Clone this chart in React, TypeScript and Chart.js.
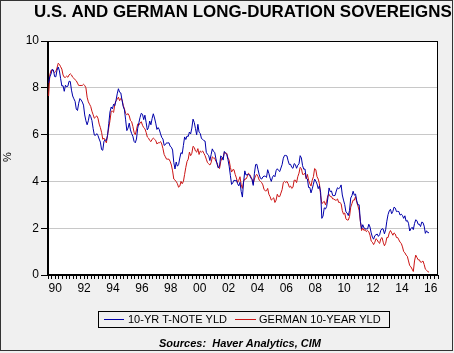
import React, { useEffect, useRef } from "react";
import { Chart, registerables } from "chart.js";

Chart.register(...registerables);

const TITLE = "U.S. AND GERMAN LONG-DURATION SOVEREIGNS";
const SERIES_LABELS = ["10-YR T-NOTE YLD", "GERMAN 10-YEAR YLD"];
const SOURCE = "Sources:  Haver Analytics, CIM";
const Y_AXIS_TITLE = "%";
const START_YEAR = 1990;
const X_MIN = 1990;
const X_MAX = 2017;
const Y_TICKS = [0, 2, 4, 6, 8, 10];
const X_LABEL_YEARS = [1990, 1992, 1994, 1996, 1998, 2000, 2002, 2004, 2006, 2008, 2010, 2012, 2014, 2016];

// Monthly averages, Jan 1990 - May 2016
const US_10Y = [
  8.21, 8.47, 8.59, 8.79, 8.76, 8.48, 8.47, 8.75, 8.89, 8.72, 8.39, 8.08,
  8.09, 7.85, 8.11, 8.04, 8.07, 8.28, 8.27, 7.9, 7.65, 7.53, 7.42, 7.09,
  7.03, 7.34, 7.54, 7.48, 7.39, 7.26, 6.84, 6.59, 6.42, 6.59, 6.87, 6.77,
  6.6, 6.26, 5.98, 5.97, 6.04, 5.96, 5.81, 5.68, 5.36, 5.33, 5.72, 5.77,
  5.75, 5.97, 6.48, 6.97, 7.18, 7.1, 7.3, 7.24, 7.46, 7.74, 7.96, 7.81,
  7.78, 7.47, 7.2, 7.06, 6.63, 6.17, 6.28, 6.49, 6.2, 6.04, 5.93, 5.71,
  5.65, 5.81, 6.27, 6.51, 6.74, 6.91, 6.87, 6.64, 6.83, 6.53, 6.2, 6.3,
  6.58, 6.42, 6.69, 6.89, 6.71, 6.49, 6.22, 6.3, 6.21, 6.03, 5.88, 5.81,
  5.54, 5.57, 5.65, 5.64, 5.65, 5.5, 5.46, 5.34, 4.81, 4.53, 4.83, 4.65,
  4.72, 5.0, 5.23, 5.18, 5.54, 5.9, 5.79, 5.94, 5.92, 6.11, 6.03, 6.28,
  6.66, 6.52, 6.26, 5.99, 6.44, 6.1, 6.05, 5.83, 5.8, 5.74, 5.72, 5.24,
  5.16, 5.1, 4.89, 5.14, 5.39, 5.28, 5.24, 4.97, 4.73, 4.57, 4.65, 5.09,
  5.04, 4.91, 5.28, 5.21, 5.16, 4.93, 4.65, 4.26, 3.87, 3.94, 4.05, 4.03,
  4.05, 3.9, 3.81, 3.96, 3.57, 3.33, 3.98, 4.45, 4.27, 4.29, 4.3, 4.27,
  4.15, 4.08, 3.83, 4.35, 4.72, 4.73, 4.5, 4.28, 4.13, 4.1, 4.19, 4.23,
  4.22, 4.17, 4.5, 4.34, 4.14, 4.0, 4.18, 4.26, 4.2, 4.46, 4.54, 4.47,
  4.42, 4.57, 4.72, 4.99, 5.11, 5.11, 5.09, 4.88, 4.72, 4.73, 4.6, 4.56,
  4.76, 4.72, 4.56, 4.69, 4.75, 5.1, 5.0, 4.67, 4.52, 4.53, 4.15, 4.1,
  3.74, 3.74, 3.51, 3.68, 3.88, 4.1, 4.01, 3.89, 3.69, 3.81, 3.53, 2.42,
  2.52, 2.87, 2.82, 2.93, 3.29, 3.72, 3.56, 3.59, 3.4, 3.39, 3.4, 3.59,
  3.73, 3.69, 3.73, 3.85, 3.42, 3.2, 3.01, 2.7, 2.65, 2.54, 2.76, 3.29,
  3.39, 3.58, 3.41, 3.46, 3.17, 3.0, 3.0, 2.3, 1.98, 2.15, 2.01, 1.98,
  1.97, 1.97, 2.17, 2.05, 1.8, 1.62, 1.53, 1.68, 1.72, 1.75, 1.65, 1.72,
  1.91, 1.98, 1.96, 1.76, 1.93, 2.3, 2.58, 2.74, 2.81, 2.62, 2.72, 2.9,
  2.86, 2.71, 2.72, 2.71, 2.56, 2.6, 2.54, 2.42, 2.53, 2.3, 2.33, 2.21,
  1.88, 1.98, 2.04, 1.94, 2.2, 2.36, 2.32, 2.17, 2.17, 2.07, 2.26, 2.24,
  2.09, 1.78, 1.89, 1.81, 1.81,
];

const DE_10Y = [
  7.65, 8.55, 8.75, 8.75, 8.7, 8.65, 8.7, 8.85, 9.05, 9.0, 8.9, 8.8,
  8.55, 8.45, 8.45, 8.5, 8.45, 8.55, 8.6, 8.55, 8.45, 8.4, 8.35, 8.3,
  8.2, 8.1, 8.1, 8.1, 8.1, 8.15, 8.1, 8.0, 7.6, 7.4, 7.3, 7.2,
  7.0, 6.85, 6.7, 6.75, 6.8, 6.7, 6.45, 6.3, 6.1, 5.8, 5.85, 5.75,
  5.65, 6.0, 6.3, 6.6, 7.0, 7.0, 6.95, 7.3, 7.45, 7.5, 7.6, 7.45,
  7.55, 7.5, 7.25, 7.1, 6.9, 6.85, 6.9, 6.8, 6.6, 6.55, 6.35, 6.1,
  6.0, 6.2, 6.45, 6.4, 6.5, 6.55, 6.4, 6.3, 6.25, 6.1, 5.9, 5.85,
  5.75, 5.7, 5.8, 5.85, 5.8, 5.75, 5.6, 5.65, 5.65, 5.7, 5.6, 5.4,
  5.15, 5.05, 4.95, 4.95, 4.95, 4.85, 4.7, 4.45, 4.1, 4.05, 4.0, 3.9,
  3.75, 3.8, 4.0, 3.9, 4.0, 4.3, 4.6, 4.85, 4.95, 5.25, 5.1, 5.2,
  5.5, 5.45, 5.3, 5.25, 5.4, 5.15, 5.3, 5.25, 5.3, 5.2, 5.1, 4.95,
  4.8, 4.75, 4.7, 4.8, 5.05, 5.0, 5.0, 4.85, 4.8, 4.6, 4.55, 4.85,
  5.0, 5.0, 5.25, 5.2, 5.2, 5.0, 4.9, 4.6, 4.4, 4.5, 4.5, 4.3,
  4.15, 3.95, 4.05, 4.2, 3.85, 3.7, 4.0, 4.1, 4.1, 4.2, 4.35, 4.3,
  4.2, 4.1, 3.9, 4.1, 4.25, 4.3, 4.2, 4.05, 4.0, 3.95, 3.85, 3.65,
  3.6, 3.6, 3.7, 3.45, 3.35, 3.2, 3.25, 3.3, 3.1, 3.2, 3.45, 3.35,
  3.35, 3.5, 3.65, 3.95, 4.0, 3.95, 4.0, 3.9, 3.75, 3.8, 3.7, 3.75,
  4.05, 4.05, 3.95, 4.2, 4.35, 4.6, 4.55, 4.3, 4.3, 4.35, 4.1, 4.3,
  4.05, 3.9, 3.8, 4.05, 4.2, 4.55, 4.5, 4.2, 4.1, 3.9, 3.4, 3.05,
  3.1, 3.15, 3.0, 3.15, 3.4, 3.45, 3.35, 3.35, 3.25, 3.25, 3.2, 3.2,
  3.25, 3.1, 3.1, 3.05, 2.75, 2.6, 2.65, 2.4, 2.35, 2.35, 2.5, 2.9,
  3.05, 3.2, 3.2, 3.35, 3.1, 2.95, 2.75, 2.3, 1.9, 2.0, 1.9, 1.95,
  1.85, 1.9, 1.85, 1.7, 1.45, 1.4, 1.3, 1.4, 1.55, 1.5, 1.4, 1.35,
  1.55, 1.6, 1.4, 1.25, 1.35, 1.6, 1.6, 1.8, 1.9, 1.8, 1.7, 1.8,
  1.75, 1.6, 1.6, 1.5, 1.4, 1.35, 1.2, 1.0, 0.95, 0.85, 0.8, 0.6,
  0.4, 0.35, 0.25, 0.15, 0.6, 0.85, 0.75, 0.65, 0.65, 0.55, 0.55, 0.6,
  0.45, 0.25, 0.2, 0.15, 0.12,
];

const COLORS = ["#0000AA", "#CC1414"];
const FONT = "'Liberation Sans', Arial, sans-serif";

const toPoints = (arr: number[]) =>
  arr.map((v, i) => ({ x: START_YEAR + (i + 0.5) / 12, y: v }));

const decorPlugin = {
  id: "decor",
  beforeDraw(chart: any) {
    const { ctx, chartArea: a } = chart;
    ctx.save();
    ctx.fillStyle = "#F0F0F0";
    ctx.fillRect(0, 0, chart.width, chart.height);
    ctx.fillStyle = "#FFFFFF";
    ctx.fillRect(a.left, a.top, a.right - a.left, a.bottom - a.top);
    ctx.restore();
  },
  afterDraw(chart: any) {
    const { ctx, chartArea: a } = chart;
    ctx.save();
    // plot frame
    ctx.strokeStyle = "#000000";
    ctx.lineWidth = 1;
    ctx.strokeRect(Math.round(a.left) - 0.5, Math.round(a.top) + 0.5, Math.round(a.right - a.left), Math.round(a.bottom - a.top) - 1);
    // outer border
    ctx.strokeStyle = "#333333";
    ctx.strokeRect(0.5, 0.5, chart.width - 2, chart.height - 3);

    // title
    ctx.fillStyle = "#000000";
    ctx.textBaseline = "alphabetic";
    ctx.textAlign = "left";
    let size = 17;
    ctx.font = `bold ${size}px ${FONT}`;
    const w = ctx.measureText(TITLE).width;
    size = size * 418 / w;
    ctx.font = `bold ${size.toFixed(2)}px ${FONT}`;
    ctx.fillText(TITLE, 34, 17);

    // y axis title
    ctx.save();
    ctx.translate(8, 157);
    ctx.rotate(-Math.PI / 2);
    ctx.font = `11px ${FONT}`;
    ctx.textAlign = "center";
    ctx.textBaseline = "middle";
    ctx.fillText(Y_AXIS_TITLE, 0, 0);
    ctx.restore();

    // legend
    ctx.strokeStyle = "#000000";
    ctx.strokeRect(98.5, 311.5, 291, 16);
    ctx.font = `11px ${FONT}`;
    ctx.textBaseline = "middle";
    ctx.textAlign = "left";
    const items = [
      { x1: 104, x2: 124, tx: 128 },
      { x1: 235, x2: 256, tx: 259 },
    ];
    items.forEach((it, i) => {
      ctx.strokeStyle = COLORS[i];
      ctx.beginPath();
      ctx.moveTo(it.x1, 319.5);
      ctx.lineTo(it.x2, 319.5);
      ctx.stroke();
      ctx.fillStyle = "#000000";
      ctx.fillText(SERIES_LABELS[i], it.tx, 320);
    });

    // sources
    ctx.font = `italic bold 11px ${FONT}`;
    ctx.textAlign = "center";
    ctx.fillText(SOURCE, 240, 344);
    ctx.restore();
  },
};

export default function App() {
  const ref = useRef<HTMLCanvasElement | null>(null);
  useEffect(() => {
    document.body.style.margin = "0";
    const canvas = ref.current;
    if (!canvas) return;
    const quarters: number[] = [];
    for (let q = X_MIN * 4; q <= X_MAX * 4; q++) quarters.push(q / 4);
    const labelSet = new Set(X_LABEL_YEARS.map((y) => y + 0.5));
    const chart = new Chart(canvas, {
      type: "line",
      data: {
        datasets: [
          {
            label: SERIES_LABELS[0],
            data: toPoints(US_10Y),
            borderColor: COLORS[0],
            borderWidth: 1,
            pointRadius: 0,
            tension: 0,
          },
          {
            label: SERIES_LABELS[1],
            data: toPoints(DE_10Y),
            borderColor: COLORS[1],
            borderWidth: 1,
            pointRadius: 0,
            tension: 0,
          },
        ],
      },
      options: {
        responsive: false,
        animation: false,
        devicePixelRatio: 1,
        layout: { padding: { left: 0, top: 41, right: 16, bottom: 56 } },
        plugins: { legend: { display: false }, title: { display: false }, tooltip: { enabled: false } },
        scales: {
          x: {
            type: "linear",
            min: X_MIN,
            max: X_MAX,
            afterFit(scale: any) {
              scale.height = 22;
            },
            afterBuildTicks(scale: any) {
              scale.ticks = quarters.map((v) => ({ value: v }));
            },
            ticks: {
              autoSkip: false,
              maxRotation: 0,
              minRotation: 0,
              padding: 2,
              color: "#000000",
              font: { family: FONT, size: 12 },
              callback: (value: any) => {
                const v = Number(value);
                if (labelSet.has(v)) {
                  return String(Math.floor(v) % 100).padStart(2, "0");
                }
                return "";
              },
            },
            grid: { drawOnChartArea: false, drawTicks: true, tickLength: 4, tickColor: "#000000" },
            border: { display: true, color: "#000000" },
          },
          y: {
            min: 0,
            max: 10,
            afterFit(scale: any) {
              scale.width = 48;
            },
            afterBuildTicks(scale: any) {
              scale.ticks = Y_TICKS.map((v) => ({ value: v }));
            },
            ticks: {
              padding: 2,
              color: "#000000",
              font: { family: FONT, size: 12 },
            },
            grid: {
              color: (c: any) => (c.tick && c.tick.value > 0 && c.tick.value < 10 ? "#C8C8C8" : "rgba(0,0,0,0)"),
              tickColor: "#000000",
              tickLength: 7,
            },
            border: { display: true, color: "#000000" },
          },
        },
      },
      plugins: [decorPlugin],
    });
    return () => chart.destroy();
  }, []);
  return <canvas ref={ref} width={454} height={353} style={{ display: "block" }} />;
}
